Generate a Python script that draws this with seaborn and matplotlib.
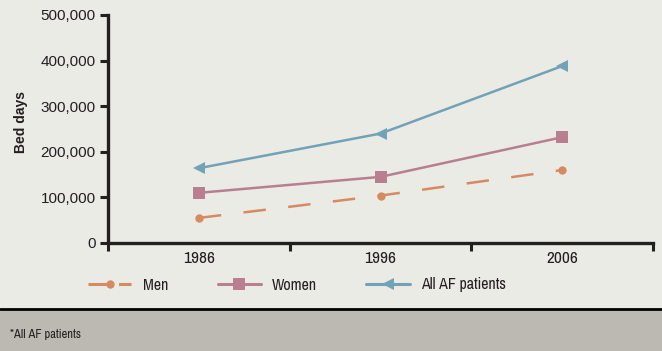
import pandas as pd
import numpy as np
import matplotlib.pyplot as plt
import seaborn as sns
from matplotlib.ticker import FuncFormatter
from matplotlib.patches import Rectangle
from matplotlib.lines import Line2D

# datos
anios = ["1986", "1996", "2006"]
hombres = [55000, 104000, 160000]
mujeres = [110000, 145000, 232000]
todos = [164000, 240000, 388000]

grupos = ["Men", "Women", "All AF patients"]
colores = {"Men": "#D68A62", "Women": "#B87F91", "All AF patients": "#72A2B6"}
marcadores = {"Men": "o", "Women": "s", "All AF patients": "<"}
tamanos = {"Men": 6, "Women": 8.5, "All AF patients": 9}

df = pd.DataFrame({
    "anio": anios * 3,
    "valor": hombres + mujeres + todos,
    "grupo": [g for g in grupos for _ in anios],
})

fondo = "#EBEBE6"
tinta = "#231F20"
angosta = ["Archivo Narrow", "Liberation Sans Narrow", "Liberation Sans", "DejaVu Sans"]
sns.set_style("white")
plt.rcParams["font.family"] = ["Liberation Sans", "DejaVu Sans"]

fig = plt.figure(figsize=(6.62, 3.51), dpi=100, facecolor=fondo)
ax = fig.add_axes([108 / 662, 1 - 243 / 351, 545 / 662, 228 / 351])
ax.set_facecolor(fondo)

for g in grupos:
    sub = df[df["grupo"] == g]
    sns.lineplot(data=sub, x="anio", y="valor", ax=ax, color=colores[g],
                 marker=marcadores[g], markersize=tamanos[g],
                 markeredgewidth=0, linewidth=1.8, legend=False)
    if g == "Men":
        ax.lines[-1].set_dashes((9, 9))

ax.set_xlim(-0.5, 2.5)
ax.set_ylim(0, 500000)
ax.set_yticks(np.arange(0, 500001, 100000))
ax.yaxis.set_major_formatter(FuncFormatter(lambda x, pos: f"{x:,.0f}"))
ax.set_xticks([0, 1, 2])
ax.set_xticklabels(anios, family=angosta, fontsize=12.5, color=tinta)
ax.set_xticks([-0.5, 0.5, 1.5, 2.5], minor=True)
ax.tick_params(axis="x", which="major", bottom=False, length=0, pad=6)
ax.tick_params(axis="x", which="minor", bottom=True, length=6, width=2.2, color=tinta,
               direction="out")
ax.tick_params(axis="y", left=True, length=6, width=2.2, color=tinta, labelsize=11, pad=3,
               labelcolor=tinta)

for lado in ["top", "right"]:
    ax.spines[lado].set_visible(False)
for lado in ["left", "bottom"]:
    ax.spines[lado].set_linewidth(2.4)
    ax.spines[lado].set_color(tinta)

ax.set_xlabel("")
ax.set_ylabel("Bed days", fontsize=10, fontweight="bold", color=tinta)
ax.yaxis.set_label_coords(-0.146, 0.53)

# leyenda abajo
handles = []
for g in grupos:
    h = Line2D([], [], color=colores[g], marker=marcadores[g], markersize=tamanos[g],
               markeredgewidth=0, linewidth=2.2)
    if g == "Men":
        h.set_dashes((6, 4))
    handles.append(h)
ley = fig.legend(handles, grupos, loc="center", bbox_to_anchor=(297 / 662, 1 - 285 / 351),
                 ncol=3, frameon=False, handlelength=2.7, handletextpad=0.7, columnspacing=3.1,
                 prop={"family": angosta, "size": 11.5})
for t in ley.get_texts():
    t.set_color(tinta)

# franja gris inferior con nota
fig.patches.append(Rectangle((0, 0), 1, 42 / 351, transform=fig.transFigure,
                             facecolor="#BCB8B2", edgecolor="none", zorder=0))
fig.add_artist(Line2D([0, 1], [42 / 351, 42 / 351], transform=fig.transFigure,
                      color="black", linewidth=2))
fig.text(10 / 662, 1 - 334 / 351, "*All AF patients", fontsize=9, va="center",
         family=angosta, color=tinta)

fig.savefig("out.png", dpi=100, facecolor=fondo)
